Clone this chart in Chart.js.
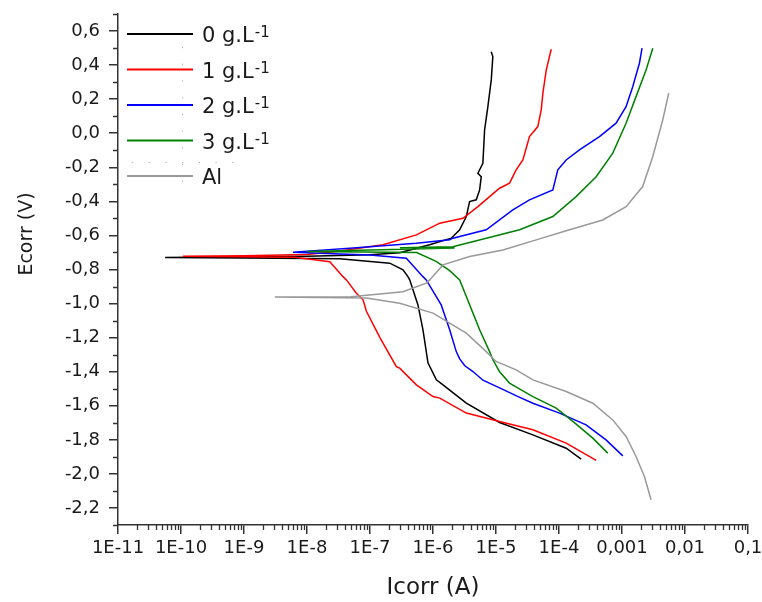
<!DOCTYPE html>
<html><head><meta charset="utf-8">
<script src="https://cdn.jsdelivr.net/npm/chart.js@4.4.1/dist/chart.umd.min.js"></script>
<style>html,body{margin:0;padding:0;background:#fff;}#wrap{width:762px;height:602px;}</style>
</head><body><div id="wrap"><canvas id="c" width="762" height="602"></canvas></div>
<script>
// ---- data (current in A, potential in V) ----
const seriesNames = ['0 g.L', '1 g.L', '2 g.L', '3 g.L', 'Al'];
const seriesSup = ['-1', '-1', '-1', '-1', ''];
const seriesColors = ['#000000', '#ff0000', '#0000ff', '#008000', '#999999'];

const i0 = [2.25e-4,1.30e-4,3.85e-5,1.14e-5,3.38e-6,1.44e-6,1.13e-6,8.32e-7,6.93e-7,5.77e-7,4.27e-7,4.0e-7,3.34e-7,2.06e-7,3.3e-8,1e-9,5.6e-11,3.2e-10,1e-8,1e-7,2.96e-7,8.85e-7,1.95e-6,2.65e-6,3.38e-6,3.81e-6,4.86e-6,5.5e-6,5.83e-6,5.16e-6,6.19e-6,6.59e-6,7.43e-6,8.41e-6,8.91e-6,8.4e-6];
const e0 = [-1.913,-1.849,-1.771,-1.698,-1.585,-1.477,-1.448,-1.348,-1.154,-1.008,-0.861,-0.842,-0.802,-0.763,-0.737,-0.732,-0.729,-0.726,-0.722,-0.714,-0.702,-0.655,-0.616,-0.567,-0.489,-0.401,-0.391,-0.333,-0.255,-0.235,-0.176,0.019,0.156,0.313,0.450,0.479];

const i1 = [3.89e-4,1.30e-4,3.85e-5,1.14e-5,3.38e-6,1.28e-6,1.0e-6,5.45e-7,2.96e-7,2.62e-7,1.43e-7,8.77e-8,7.76e-8,6.08e-8,4.23e-8,3.73e-8,2.3e-8,6.3e-9,1.07e-10,1e-9,1e-8,2.92e-8,1.61e-7,5.45e-7,1.28e-6,2.99e-6,5.16e-6,7.91e-6,1.14e-5,1.64e-5,2.09e-5,2.67e-5,3.4e-5,4.61e-5,5.22e-5,5.55e-5,6.27e-5,7.52e-5];
const e1 = [-1.921,-1.819,-1.741,-1.692,-1.643,-1.555,-1.546,-1.477,-1.379,-1.370,-1.198,-1.045,-0.978,-0.939,-0.861,-0.842,-0.754,-0.728,-0.722,-0.719,-0.712,-0.695,-0.655,-0.597,-0.528,-0.499,-0.431,-0.372,-0.323,-0.293,-0.215,-0.157,-0.020,0.039,0.137,0.235,0.371,0.493];

const i2 = [1.03e-3,5.58e-4,2.69e-4,1.02e-4,3.85e-5,2.2e-5,1.14e-5,6.2e-6,4.31e-6,3.2e-6,2.65e-6,2.34e-6,1.84e-6,1.63e-6,1.35e-6,7.82e-7,6.93e-7,3.77e-7,1.0e-7,1.6e-8,6.0e-9,4.76e-8,5.45e-7,1.84e-6,2.07e-6,7.0e-6,1.85e-5,3.4e-5,7.98e-5,9.57e-5,1.30e-4,2.11e-4,4.39e-4,8.05e-4,1.16e-3,1.48e-3,1.89e-3,2.08e-3];
const e2 = [-1.894,-1.800,-1.712,-1.643,-1.585,-1.545,-1.495,-1.450,-1.399,-1.365,-1.325,-1.282,-1.154,-1.096,-1.008,-0.861,-0.842,-0.734,-0.715,-0.705,-0.698,-0.675,-0.646,-0.626,-0.616,-0.567,-0.450,-0.391,-0.333,-0.215,-0.157,-0.098,-0.020,0.059,0.156,0.273,0.411,0.499];

const i3 = [5.94e-4,3.44e-4,1.66e-4,9.02e-5,3.85e-5,1.64e-5,1.14e-5,8.93e-6,7.91e-6,5.5e-6,4.31e-6,3.38e-6,2.65e-6,1.84e-6,1.12e-6,5.5e-7,1.0e-8,2.2e-6,3.0e-7,2.07e-6,7.0e-6,2.37e-5,7.98e-5,1.87e-4,3.89e-4,7.14e-4,1.16e-3,1.67e-3,2.41e-3,3.08e-3];
const e3 = [-1.878,-1.790,-1.692,-1.614,-1.546,-1.467,-1.400,-1.330,-1.282,-1.154,-1.056,-0.959,-0.861,-0.807,-0.752,-0.700,-0.695,-0.674,-0.672,-0.666,-0.616,-0.567,-0.489,-0.372,-0.255,-0.117,0.059,0.215,0.371,0.499];

const i4 = [2.89e-3,2.27e-3,1.67e-3,1.16e-3,7.14e-4,3.44e-4,1.30e-4,3.85e-5,2.09e-5,1.0e-5,7.0e-6,3.38e-6,1.0e-6,2.96e-7,8.77e-8,3.08e-9,5.0e-8,3.34e-7,7.82e-7,8.85e-7,1.44e-6,3.81e-6,1.29e-5,4.35e-5,1.47e-4,4.95e-4,1.16e-3,2.13e-3,3.08e-3,4.43e-3,5.52e-3];
const e4 = [-2.152,-2.015,-1.898,-1.780,-1.683,-1.585,-1.516,-1.448,-1.389,-1.340,-1.282,-1.174,-1.056,-0.998,-0.968,-0.962,-0.960,-0.930,-0.880,-0.861,-0.773,-0.724,-0.685,-0.626,-0.567,-0.509,-0.431,-0.313,-0.137,0.078,0.235];

const yTickValues = [-2.2,-2.0,-1.8,-1.6,-1.4,-1.2,-1.0,-0.8,-0.6,-0.4,-0.2,0.0,0.2,0.4,0.6];
const xTickValues = [1e-11,1e-10,1e-9,1e-8,1e-7,1e-6,1e-5,1e-4,1e-3,1e-2,1e-1];
const xTickLabels = ['1E-11','1E-10','1E-9','1E-8','1E-7','1E-6','1E-5','1E-4','0,001','0,01','0,1'];
const xTitle = 'Icorr (A)';
const yTitle = 'Ecorr (V)';

// ---- chart ----
const currents = [i0, i1, i2, i3, i4];
const potentials = [e0, e1, e2, e3, e4];
const FONT = 'DejaVu Sans';
const INK = '#1a1a1a';
const AXIS = '#333333';

const datasets = currents.map((arr, s) => ({
  label: seriesNames[s] + (seriesSup[s] ? ' ' + seriesSup[s] : ''),
  data: arr.map((x, k) => ({x: x, y: potentials[s][k]})),
  borderColor: seriesColors[s],
  backgroundColor: seriesColors[s],
  borderWidth: 1.5,
  pointRadius: 0,
  showLine: true,
  tension: 0,
  order: 5 - s
}));

const decor = {
  id: 'decor',
  afterDraw(chart) {
    const ctx = chart.ctx;
    const xs = chart.scales.x, ys = chart.scales.y;
    const area = chart.chartArea;
    ctx.save();
    // minor ticks
    ctx.strokeStyle = AXIS;
    ctx.lineWidth = 1.3;
    ctx.beginPath();
    for (let d = -11; d < -1; d++) {
      for (let m = 2; m <= 9; m++) {
        const px = Math.round(xs.getPixelForValue(m * Math.pow(10, d))) + 0.5;
        ctx.moveTo(px, area.bottom);
        ctx.lineTo(px, area.bottom + 5);
      }
    }
    for (let k = -23; k <= 7; k += 2) {
      const py = Math.round(ys.getPixelForValue(k / 10)) + 0.5;
      ctx.moveTo(area.left, py);
      ctx.lineTo(area.left - 5, py);
    }
    ctx.stroke();

    // y axis title
    ctx.fillStyle = INK;
    ctx.font = '19px "' + FONT + '"';
    ctx.textAlign = 'center';
    ctx.textBaseline = 'middle';
    ctx.translate(27, 234);
    ctx.rotate(-Math.PI / 2);
    ctx.fillText(yTitle, 0, 0);
    ctx.restore();

    // legend
    ctx.save();
    ctx.strokeStyle = '#b0b0b0';
    ctx.lineWidth = 1;
    ctx.setLineDash([1.2, 15.5]);
    ctx.beginPath();
    ctx.moveTo(182.5, 47); ctx.lineTo(182.5, 185);
    ctx.moveTo(132, 162.5); ctx.lineTo(234, 162.5);
    ctx.stroke();
    ctx.setLineDash([]);
    const rowY0 = 34, rowStep = 35.5;
    for (let s = 0; s < seriesNames.length; s++) {
      const y = rowY0 + s * rowStep;
      ctx.strokeStyle = seriesColors[s];
      ctx.lineWidth = 2;
      ctx.beginPath();
      ctx.moveTo(127, y);
      ctx.lineTo(193, y);
      ctx.stroke();
      ctx.fillStyle = INK;
      ctx.textAlign = 'left';
      ctx.textBaseline = 'alphabetic';
      ctx.font = '21px "' + FONT + '"';
      ctx.fillText(seriesNames[s], 202, y + 8);
      if (seriesSup[s]) {
        const w = ctx.measureText(seriesNames[s]).width;
        ctx.font = '15px "' + FONT + '"';
        ctx.fillText(seriesSup[s], 202 + w + 1, y + 3);
      }
    }
    ctx.restore();
  }
};

new Chart(document.getElementById('c'), {
  type: 'scatter',
  data: {datasets: datasets},
  options: {
    responsive: false,
    animation: false,
    devicePixelRatio: 1,
    layout: {padding: {left: 0, right: 14, top: 14, bottom: 0}},
    plugins: {legend: {display: false}, tooltip: {enabled: false}},
    scales: {
      x: {
        type: 'logarithmic',
        min: 1e-11,
        max: 0.1,
        afterBuildTicks: (s) => { s.ticks = xTickValues.map(v => ({value: v, major: true})); },
        afterFit: (s) => { s.height = 77; s.paddingLeft = 0; s.paddingRight = 0; },
        ticks: {
          autoSkip: false, maxRotation: 0, minRotation: 0, padding: 4, color: INK,
          font: {family: FONT, size: 18},
          callback: (v) => {
            const k = xTickValues.findIndex(t => Math.abs(Math.log10(t) - Math.log10(v)) < 1e-6);
            return k >= 0 ? xTickLabels[k] : '';
          }
        },
        grid: {drawOnChartArea: false, drawTicks: true, tickLength: 9, color: AXIS, lineWidth: 1.5},
        border: {display: true, color: AXIS, width: 1.5},
        title: {display: true, text: xTitle, color: INK, font: {family: FONT, size: 23}, padding: {top: 0, bottom: 0}}
      },
      y: {
        type: 'linear',
        min: -2.3,
        max: 0.7,
        afterBuildTicks: (s) => { s.ticks = yTickValues.map(v => ({value: v})); },
        afterFit: (s) => { s.width = 118; s.paddingTop = 0; s.paddingBottom = 0; },
        ticks: {
          padding: 9, color: INK, font: {family: FONT, size: 18},
          callback: (v) => v.toFixed(1).replace('.', ',')
        },
        grid: {drawOnChartArea: false, drawTicks: true, tickLength: 9, color: AXIS, lineWidth: 1.5},
        border: {display: true, color: AXIS, width: 1.5},
        title: {display: false, text: yTitle}
      }
    }
  },
  plugins: [decor]
});
</script>
</body></html>
